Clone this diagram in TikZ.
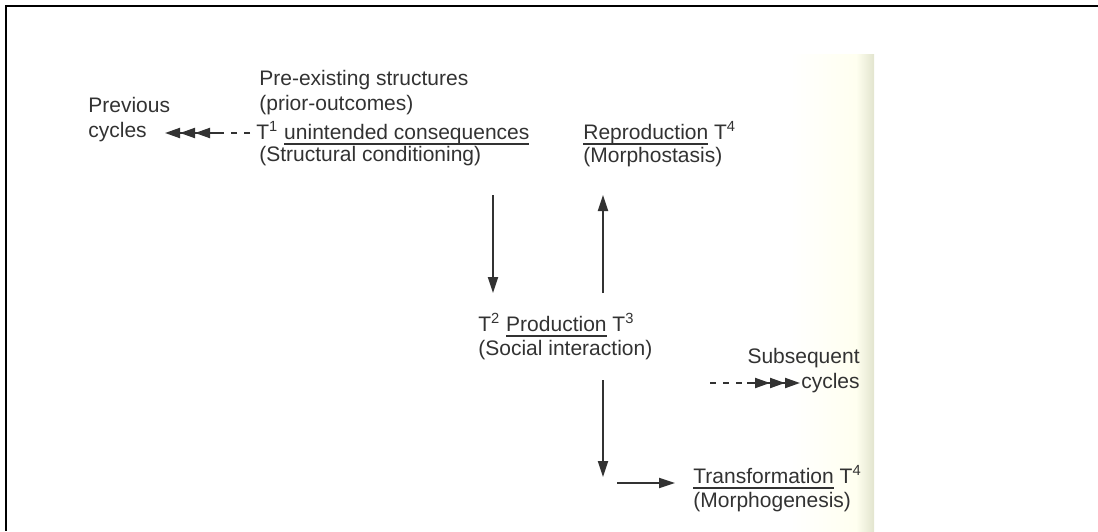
\documentclass[tikz,border=0pt]{standalone}
\usepackage{fontspec}
\setmainfont{Liberation Sans}
\usetikzlibrary{positioning,arrows.meta}
\definecolor{ink}{RGB}{50,50,50}
\definecolor{pagedge}{RGB}{226,228,206}
\newsavebox{\ulbox}
\newcommand{\ulined}[1]{\sbox{\ulbox}{#1}\rlap{\rule[-2.6pt]{\wd\ulbox}{0.7pt}}\usebox{\ulbox}}
\tikzset{
  lbl/.style={inner sep=0pt, text=ink, font=\fontsize{10.5}{12.5}\selectfont, align=left},
  arr/.style={-{Triangle[length=8pt,width=5pt]}, line width=1pt, draw=ink},
  dsh/.style={line width=1pt, draw=ink, dash pattern=on 3pt off 3.5pt},
  trip/.style={-{Triangle[length=7.5pt,width=5pt,sep=0pt]Triangle[length=7.5pt,width=5pt,sep=0pt]Triangle[length=7.5pt,width=5pt]},
               line width=1pt, draw=ink},
}

\begin{document}
\begin{tikzpicture}[x=0.5pt,y=-0.5pt]
\useasboundingbox (0,0) rectangle (1098,531);
% scanned page edge + frame
\shade[left color=white, right color=yellow!6] (790,54) rectangle (856,531);
\shade[left color=yellow!6, right color=pagedge] (856,54) rectangle (874,531);
\draw[line width=1pt, black] (1098,6) -- (6,6) -- (6,531);

% texts
\node[lbl, anchor=west] (prev) at (88,120) {Previous\\cycles};
\node[lbl, anchor=west] (pre) at (259,93) {Pre-existing structures\\(prior-outcomes)};
\node[lbl, anchor=west] (tone) at (256,133) {T\textsuperscript{1} \ulined{unintended consequences}};
\node[lbl, anchor=west] (cond) at (259,156) {(Structural conditioning)};
\node[lbl, anchor=west] (repro) at (583,133) {\ulined{Reproduction} T\textsuperscript{4}};
\node[lbl, anchor=west] (stasis) at (583,157) {(Morphostasis)};
\node[lbl, anchor=west] (prod) at (478,325) {T\textsuperscript{2} \ulined{Production} T\textsuperscript{3}};
\node[lbl, anchor=west] (social) at (478,350) {(Social interaction)};
\node[lbl, anchor=east, align=right] (subseq) at (860,371) {Subsequent\\cycles};
\node[lbl, anchor=west] (transf) at (693,477) {\ulined{Transformation} T\textsuperscript{4}};
\node[lbl, anchor=west] (genesis) at (693,502) {(Morphogenesis)};

% free arrow ends
\coordinate (ltrip) at (218,134);
\coordinate (ltip) at (165,134);
\coordinate (rdash) at (710,383);
\coordinate (rtrip) at (747,383);
\coordinate (rtip) at (800,383);
\coordinate (d1a) at (493,195);
\coordinate (d1b) at (493,293);
\coordinate (u1a) at (603,293);
\coordinate (u1b) at (603,195);
\coordinate (d2a) at (603,380);
\coordinate (d2b) at (603,477);
\coordinate (ha) at (617,483);
\coordinate (hb) at (675,483);

% cycles
\draw[dsh, shorten <=3pt] (tone.west) -- (tone.west -| ltrip);
\draw[trip] (tone.west -| ltrip) -- (tone.west -| ltip);
\draw[dsh] (rdash) -- (rtrip);
\draw[trip] (rtrip) -- (rtip);

% main morphogenetic sequence
\draw[arr] (d1a) -- (d1b);
\draw[arr] (u1a) -- (u1b);
\draw[arr] (d2a) -- (d2b);
\draw[arr] (ha) -- (hb);
\end{tikzpicture}
\end{document}
